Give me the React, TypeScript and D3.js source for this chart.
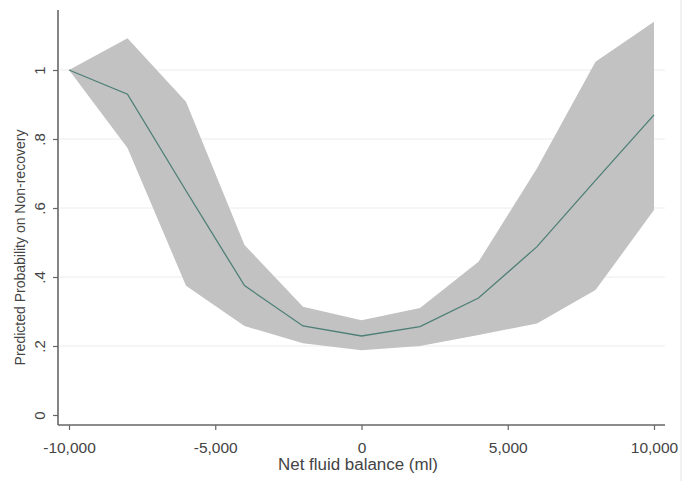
import * as d3 from 'd3'
import { useEffect, useRef } from 'react'

// predicted probability with 95% CI, by net fluid balance (ml)
const fluidBalance = [-10000, -8000, -6000, -4000, -2000, 0, 2000, 4000, 6000, 8000, 10000]
const predicted = [1.0, 0.93, 0.65, 0.375, 0.258, 0.229, 0.256, 0.339, 0.488, 0.68, 0.87]
const upperCI = [1.0, 1.092, 0.908, 0.493, 0.314, 0.275, 0.31, 0.444, 0.715, 1.024, 1.14]
const lowerCI = [1.0, 0.774, 0.375, 0.258, 0.208, 0.188, 0.2, 0.232, 0.265, 0.362, 0.594]

const xTicks = [-10000, -5000, 0, 5000, 10000]
const xTickLabels = ['-10,000', '-5,000', '0', '5,000', '10,000']
const yTicks = [0, 0.2, 0.4, 0.6, 0.8, 1]
const yTickLabels = ['0', '.2', '.4', '.6', '.8', '1']

export default function App() {
    const svgRef = useRef<SVGSVGElement>(null)

    useEffect(() => {
        makeChart(svgRef)
    }, [])

    function makeChart(svgRef: React.RefObject<SVGSVGElement>) {
        const width = 685
        const height = 481
        const font = 'Liberation Sans, Arial, sans-serif'
        const textColor = '#444'
        const axisColor = '#666'

        const svg = d3.select(svgRef.current).attr('width', width).attr('height', height)
        svg.selectAll('*').remove()

        const x = d3.scaleLinear().domain([-10000, 10000]).range([69, 654])
        const y = d3.scaleLinear().domain([0, 1]).range([415, 70])

        const axisY = 425
        const axisX = 58

        // faint right border
        svg.append('line')
            .attr('x1', 681).attr('x2', 681).attr('y1', 0).attr('y2', height)
            .attr('stroke', '#e2e2e2').attr('stroke-width', 1)

        // grid lines
        svg.append('g').selectAll('line')
            .data(yTicks.filter(d => d > 0))
            .enter()
            .append('line')
            .attr('x1', axisX + 2).attr('x2', 665)
            .attr('y1', d => y(d)).attr('y2', d => y(d))
            .attr('stroke', '#ececec').attr('stroke-width', 1)

        const rows = fluidBalance.map((f, i) => ({ f, p: predicted[i], lo: lowerCI[i], hi: upperCI[i] }))

        const area = d3.area<any>()
            .x(d => x(d.f))
            .y0(d => y(d.lo))
            .y1(d => y(d.hi))

        svg.append('path')
            .datum(rows)
            .attr('d', area)
            .attr('fill', '#c2c2c2')

        const line = d3.line<any>()
            .x(d => x(d.f))
            .y(d => y(d.p))

        svg.append('path')
            .datum(rows)
            .attr('d', line)
            .attr('fill', 'none')
            .attr('stroke', '#4e7f76')
            .attr('stroke-width', 1.3)

        // x axis
        const xAxis = d3.axisBottom(x)
            .tickValues(xTicks)
            .tickSize(5)
            .tickFormat((d, i) => xTickLabels[i])
        const gx = svg.append('g').attr('transform', `translate(0,${axisY})`).call(xAxis)
        gx.select('.domain').remove()
        gx.selectAll('.tick line').attr('stroke', axisColor).attr('stroke-width', 1.2)
        gx.selectAll('.tick text')
            .attr('y', 28)
            .attr('dy', null)
            .attr('fill', textColor)
            .attr('font-family', font)
            .attr('font-size', 15.5)
        svg.append('line')
            .attr('x1', axisX).attr('x2', 665).attr('y1', axisY).attr('y2', axisY)
            .attr('stroke', axisColor).attr('stroke-width', 1.6)

        // y axis
        const yAxis = d3.axisLeft(y)
            .tickValues(yTicks)
            .tickSize(5)
            .tickFormat((d, i) => yTickLabels[i])
        const gy = svg.append('g').attr('transform', `translate(${axisX},0)`).call(yAxis)
        gy.select('.domain').remove()
        gy.selectAll('.tick line').attr('stroke', axisColor).attr('stroke-width', 1.2)
        gy.selectAll('.tick text')
            .attr('x', null)
            .attr('dy', null)
            .attr('transform', 'translate(-13,0) rotate(-90)')
            .attr('text-anchor', 'middle')
            .attr('fill', textColor)
            .attr('font-family', font)
            .attr('font-size', 15)
        svg.append('line')
            .attr('x1', axisX).attr('x2', axisX).attr('y1', 10).attr('y2', axisY)
            .attr('stroke', axisColor).attr('stroke-width', 1.6)

        // titles
        svg.append('text')
            .attr('x', 358)
            .attr('y', 470)
            .attr('text-anchor', 'middle')
            .attr('fill', textColor)
            .attr('font-family', font)
            .attr('font-size', 16)
            .attr('textLength', 160)
            .attr('lengthAdjust', 'spacingAndGlyphs')
            .text('Net fluid balance (ml)')

        svg.append('text')
            .attr('transform', `translate(25,${(y(0) + y(1)) / 2 + 5}) rotate(-90)`)
            .attr('text-anchor', 'middle')
            .attr('fill', textColor)
            .attr('font-family', font)
            .attr('font-size', 14)
            .text('Predicted Probability on Non-recovery')
    }

    return (
        <svg ref={svgRef} style={{ position: 'absolute', left: 0, top: 0 }}></svg>
    )
}
